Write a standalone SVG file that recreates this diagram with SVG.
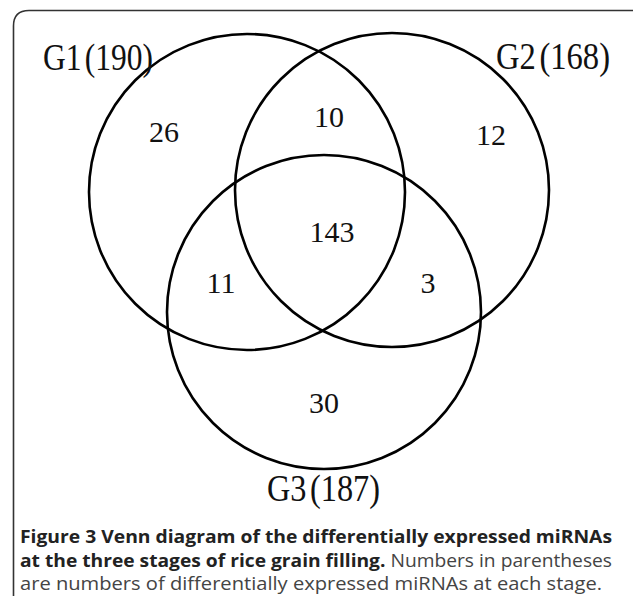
<svg xmlns="http://www.w3.org/2000/svg" width="633" height="596" viewBox="0 0 633 596">
<style>
.c{fill:none;stroke:#000;stroke-width:2.6}
.n{font-family:"Liberation Serif",serif;font-size:30px;fill:#111;text-anchor:middle}
.l{font-family:"Liberation Serif",serif;font-size:37px;fill:#111}
.cap{font-family:"Open Sans","Noto Sans",sans-serif;font-size:18px;fill:#444}
.b{font-weight:bold;fill:#222}
</style>
<rect width="633" height="596" fill="#fff"/>
<path d="M13.5,596 V26 Q13.5,10.5 29,10.5 H633" fill="none" stroke="#333" stroke-width="1.6"/>
<g id="G1"><circle class="c" cx="247" cy="192" r="158"/><text class="l" x="43" y="70" textLength="110" lengthAdjust="spacingAndGlyphs">G1<tspan dx="4">(190)</tspan></text></g>
<g id="G2"><circle class="c" cx="392" cy="190" r="157"/><text class="l" x="496" y="69" textLength="114" lengthAdjust="spacingAndGlyphs">G2<tspan dx="4">(168)</tspan></text></g>
<g id="G3"><circle class="c" cx="324" cy="312" r="157"/><text class="l" x="267" y="501" textLength="113" lengthAdjust="spacingAndGlyphs">G3<tspan dx="4">(187)</tspan></text></g>
<g id="counts">
<text class="n" x="164" y="142">26</text>
<text class="n" x="329" y="127">10</text>
<text class="n" x="491" y="145">12</text>
<text class="n" x="332" y="242">143</text>
<text class="n" x="221" y="293">11</text>
<text class="n" x="428" y="293">3</text>
<text class="n" x="324" y="413">30</text>
</g>
<g id="caption">
<text class="cap b" x="20" y="543" textLength="592" lengthAdjust="spacingAndGlyphs">Figure 3 Venn diagram of the differentially expressed miRNAs</text>
<text class="cap" x="20" y="567" textLength="592" lengthAdjust="spacingAndGlyphs"><tspan class="b">at the three stages of rice grain filling.</tspan> Numbers in parentheses</text>
<text class="cap" x="20" y="590" textLength="582" lengthAdjust="spacingAndGlyphs">are numbers of differentially expressed miRNAs at each stage.</text>
</g>
</svg>
